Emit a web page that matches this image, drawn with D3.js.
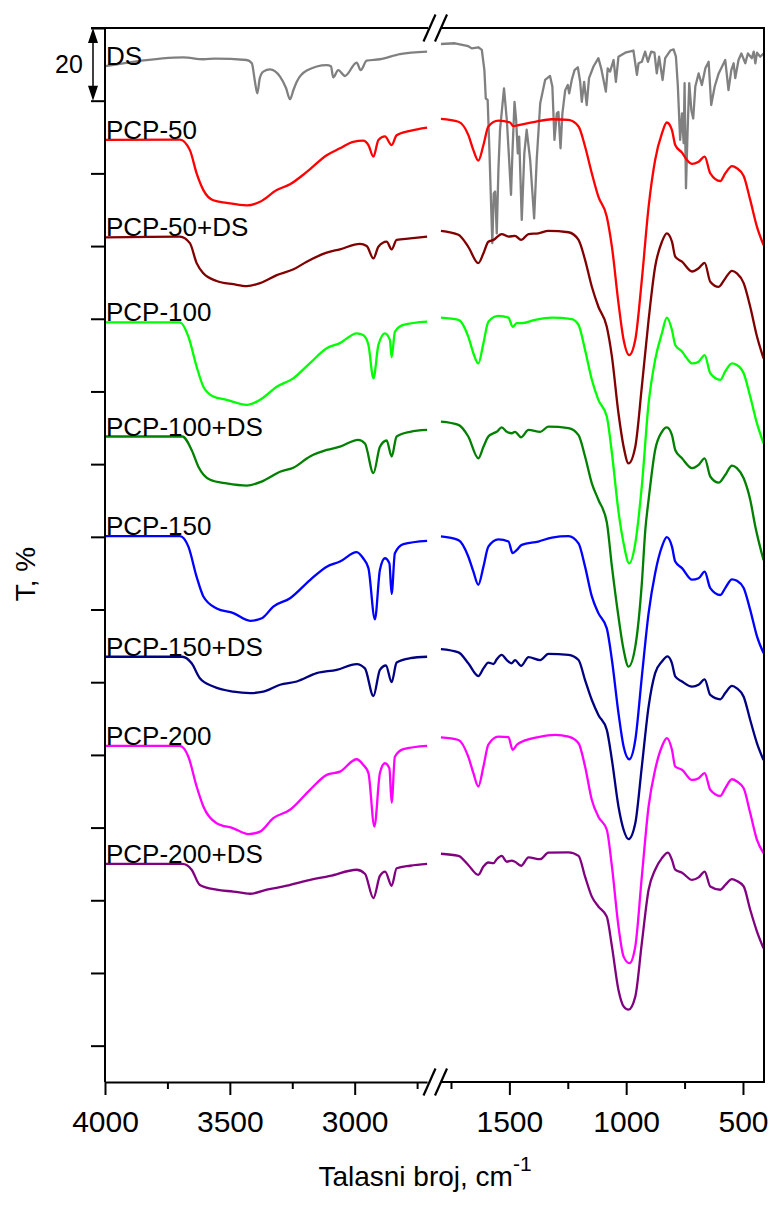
<!DOCTYPE html>
<html><head><meta charset="utf-8">
<script src="https://cdn.jsdelivr.net/npm/d3@7"></script>
<style>
html,body{margin:0;padding:0;background:#fff;}
svg{display:block;font-family:"Liberation Sans",Arial,sans-serif;}
</style></head>
<body>
<svg id="chart" width="772" height="1212"></svg>
<script>
// ---- Data (wavenumber cm-1, offset transmittance %) ----
const sampleNames = ["DS","PCP-50","PCP-50+DS","PCP-100","PCP-100+DS","PCP-150","PCP-150+DS","PCP-200","PCP-200+DS"];
const sampleColors = ["#808080","#ff0000","#800000","#00ff00","#008000","#0000ff","#000080","#ff00ff","#800080"];

const xTicksLeftMajor = [4000, 3500, 3000];
const xTicksLeftMinor = [3750, 3250, 2750];
const xTicksRightMajor = [1500, 1000, 500];
const xTicksRightMinor = [1750, 1250, 750];
const yTicks = [10, 30, 50, 70, 90, 110, 130, 150, 170, 190, 210, 230, 250, 270, 290];
const scaleBarValue = 20;

const dsLeft = [[4000,279.5],[3887,280.7],[3686,281.9],[3606,281.4],[3560,281.6],[3433,281.2],[3412,280.3],[3400,275.5],[3390,272.0],[3380,276.2],[3366,278.0],[3339,278.6],[3299,276.6],[3275,273.5],[3259,270.4],[3245,273.0],[3232,275.2],[3192,278.3],[3112,279.8],[3095,279.5],[3086,276.4],[3066,278.4],[3039,276.8],[2992,280.5],[2976,278.4],[2952,281.0],[2899,281.4],[2819,282.8],[2710,283.5]];
const dsRight = [[1793,285.6],[1733,285.8],[1676,285.0],[1661,284.4],[1633,284.7],[1618,284.0],[1607,278.4],[1601,270.6],[1593,270.2],[1586,257.4],[1578,240.8],[1573,230.8],[1567,244.5],[1561,245.0],[1554,233.5],[1547,250.9],[1540,262.0],[1523,273.4],[1511,264.7],[1501,253.7],[1493,244.1],[1487,255.5],[1478,269.7],[1471,264.7],[1464,255.5],[1458,260.1],[1447,237.2],[1436,255.5],[1426,262.0],[1411,253.7],[1394,237.6],[1383,253.7],[1368,269.3],[1347,275.7],[1326,276.8],[1316,273.9],[1307,259.2],[1297,266.5],[1290,266.9],[1281,256.9],[1273,266.5],[1261,272.9],[1250,274.3],[1244,272.0],[1233,275.7],[1221,278.4],[1207,279.2],[1197,275.2],[1190,269.7],[1180,275.2],[1169,268.8],[1159,276.2],[1140,279.4],[1119,281.7],[1107,278.9],[1097,275.7],[1087,272.5],[1079,278.9],[1069,278.0],[1054,281.2],[1044,275.2],[1033,282.1],[1004,283.2],[969,283.8],[954,277.1],[947,280.3],[933,280.7],[919,283.5],[907,280.7],[893,283.5],[879,283.2],[869,277.5],[859,282.1],[844,275.7],[833,281.7],[811,283.8],[797,284.1],[787,282.1],[779,274.3],[769,259.2],[761,266.5],[754,258.3],[750,274.8],[744,245.9],[737,261.9],[730,274.8],[721,267.4],[713,265.1],[704,273.9],[690,277.5],[676,274.3],[661,278.9],[647,280.7],[636,268.8],[621,273.9],[604,277.5],[576,281.2],[562,272.9],[550,278.4],[540,280.3],[533,276.2],[519,281.2],[507,283.0],[490,280.3],[479,283.0],[462,281.7],[454,283.5],[447,280.3],[440,283.2],[426,282.1],[412,283.0]];

const pcp50Left = [[4000,259.2],[3700,259.3],[3660,256.4],[3633,250.0],[3606,245.4],[3566,242.6],[3513,241.9],[3432,241.2],[3379,242.2],[3312,245.4],[3259,247.0],[3192,250.4],[3112,255.0],[3059,256.9],[3006,258.7],[2966,259.0],[2945,257.8],[2925,254.6],[2905,259.2],[2879,260.2],[2852,257.8],[2832,260.5],[2778,261.7],[2710,262.6]];
const pcp50Right = [[1793,265.0],[1718,264.2],[1676,260.6],[1654,256.4],[1633,253.5],[1611,257.8],[1590,262.9],[1547,264.5],[1497,264.0],[1483,263.0],[1461,263.3],[1390,264.2],[1318,264.9],[1247,264.7],[1204,262.9],[1176,257.4],[1147,250.0],[1119,243.6],[1083,238.1],[1061,229.8],[1033,214.3],[1011,204.2],[987,200.0],[961,204.2],[933,220.7],[904,240.8],[876,253.7],[847,261.0],[826,264.0],[804,261.9],[790,257.8],[761,255.7],[740,253.7],[718,252.6],[690,253.2],[664,254.6],[640,250.0],[597,247.9],[576,250.0],[547,252.0],[526,251.4],[497,249.3],[469,242.7],[440,235.3],[412,230.3]];

const pcp50dsLeft = [[4000,232.4],[3700,232.6],[3660,230.8],[3633,225.3],[3606,222.5],[3553,220.4],[3486,219.5],[3432,219.0],[3379,219.8],[3312,222.0],[3245,223.6],[3192,225.7],[3112,228.2],[3059,229.1],[2979,230.6],[2952,230.0],[2925,226.6],[2905,229.8],[2872,231.2],[2852,229.1],[2832,231.7],[2778,232.1],[2710,232.6]];
const pcp50dsRight = [[1793,234.2],[1718,233.1],[1676,229.8],[1633,225.3],[1611,228.0],[1590,231.2],[1568,231.7],[1533,233.3],[1504,232.6],[1476,232.8],[1450,231.7],[1418,233.3],[1376,233.5],[1333,234.2],[1247,233.8],[1204,231.7],[1176,226.2],[1147,218.8],[1119,213.3],[1083,207.8],[1061,199.6],[1033,184.0],[1011,174.8],[990,170.2],[961,174.8],[933,191.3],[904,209.7],[876,224.3],[847,231.2],[826,233.5],[804,231.2],[790,227.1],[761,225.7],[718,223.0],[690,223.9],[664,225.4],[640,220.2],[604,218.8],[576,221.1],[547,223.2],[526,222.5],[497,219.8],[469,213.3],[440,205.1],[412,199.1]];

const pcp100Left = [[4000,209.0],[3700,209.0],[3666,205.1],[3633,196.8],[3606,191.3],[3566,188.6],[3513,187.7],[3432,186.3],[3379,187.7],[3312,191.3],[3246,193.6],[3179,197.8],[3112,201.9],[3059,203.3],[2992,206.0],[2966,205.5],[2945,202.8],[2925,193.6],[2905,202.8],[2879,206.0],[2859,204.2],[2852,199.4],[2839,206.4],[2805,208.3],[2710,209.2]];
const pcp100Right = [[1793,210.3],[1718,209.7],[1676,205.1],[1654,200.5],[1633,197.7],[1611,203.3],[1590,209.2],[1547,210.8],[1504,210.3],[1486,207.8],[1468,208.8],[1447,208.8],[1390,209.7],[1318,210.3],[1233,209.9],[1204,208.3],[1176,201.4],[1147,193.2],[1119,187.7],[1083,183.1],[1061,173.0],[1033,157.0],[1011,148.2],[987,142.7],[961,148.2],[933,164.0],[904,186.7],[876,198.7],[847,206.0],[826,210.3],[804,206.9],[790,202.8],[761,201.0],[740,199.1],[718,197.7],[690,198.2],[664,200.0],[640,195.0],[597,193.2],[576,195.5],[547,197.7],[526,197.3],[497,195.0],[469,188.6],[440,181.2],[412,175.7]];

const pcp100dsLeft = [[4000,177.6],[3690,177.6],[3653,173.9],[3626,169.3],[3579,165.7],[3513,164.7],[3432,164.1],[3366,165.4],[3299,167.9],[3246,169.0],[3179,172.1],[3112,173.9],[3059,174.8],[2986,176.7],[2959,175.7],[2925,167.5],[2899,174.8],[2872,176.5],[2852,172.1],[2832,177.6],[2778,178.9],[2710,179.4]];
const pcp100dsRight = [[1793,181.7],[1718,180.8],[1676,177.6],[1633,171.6],[1611,174.8],[1590,177.6],[1568,178.5],[1554,178.9],[1533,180.1],[1511,178.9],[1490,178.5],[1476,178.9],[1450,177.4],[1418,179.4],[1368,178.9],[1333,180.3],[1247,179.9],[1204,178.0],[1176,172.1],[1147,164.7],[1119,160.2],[1083,154.0],[1061,141.8],[1033,128.0],[1011,118.9],[990,114.3],[961,119.8],[933,137.2],[918,152.0],[904,160.2],[876,173.9],[847,178.9],[826,180.1],[804,178.0],[790,173.9],[761,171.6],[718,168.9],[690,169.8],[664,171.6],[640,166.6],[604,164.9],[576,167.0],[547,169.6],[526,168.9],[497,166.1],[469,160.2],[447,152.8],[412,143.6]];

const pcp150Left = [[4000,150.2],[3700,150.2],[3666,147.3],[3633,139.0],[3606,133.6],[3553,130.3],[3486,129.0],[3419,126.9],[3372,127.6],[3326,130.8],[3259,133.1],[3179,138.1],[3112,141.8],[3059,143.2],[2992,145.8],[2966,144.1],[2945,141.4],[2919,127.3],[2899,140.9],[2879,144.1],[2861,142.7],[2852,134.3],[2839,145.5],[2805,148.0],[2710,148.9]];
const pcp150Right = [[1793,150.1],[1718,149.1],[1676,144.6],[1654,140.4],[1633,136.8],[1611,141.8],[1590,147.3],[1547,149.3],[1504,148.7],[1486,145.5],[1468,146.4],[1447,147.8],[1376,148.7],[1318,149.8],[1247,150.2],[1204,148.2],[1176,141.8],[1147,133.6],[1119,129.0],[1083,124.8],[1061,116.1],[1033,101.5],[1011,92.3],[987,88.8],[961,94.1],[933,111.5],[904,129.0],[876,140.0],[847,147.3],[826,149.9],[804,147.3],[790,143.2],[761,141.4],[718,138.2],[690,138.6],[664,140.4],[640,135.9],[597,134.0],[576,135.9],[547,138.3],[526,137.9],[497,135.9],[469,129.9],[440,122.6],[412,118.0]];

const pcp150dsLeft = [[4000,117.0],[3690,117.0],[3653,115.2],[3620,111.1],[3566,108.8],[3486,107.4],[3419,107.0],[3366,107.4],[3299,109.3],[3232,110.2],[3152,112.5],[3072,113.4],[2992,115.0],[2959,113.8],[2925,106.2],[2899,113.4],[2875,114.6],[2852,110.0],[2832,115.4],[2778,116.6],[2710,117.0]];
const pcp150dsRight = [[1793,119.1],[1718,118.2],[1676,115.2],[1633,111.7],[1611,113.8],[1590,115.4],[1568,115.0],[1554,116.3],[1533,117.5],[1511,116.1],[1490,115.2],[1476,116.1],[1450,114.5],[1418,116.9],[1368,116.1],[1333,117.8],[1247,117.5],[1204,116.1],[1176,110.6],[1147,105.1],[1119,101.0],[1083,96.9],[1061,88.6],[1033,75.8],[1011,69.4],[990,66.8],[961,71.2],[933,86.8],[904,103.3],[876,112.5],[847,115.7],[823,117.1],[804,115.2],[790,111.6],[761,110.2],[718,108.8],[690,109.3],[664,110.8],[640,106.5],[597,105.3],[576,107.0],[547,109.0],[526,108.3],[497,106.0],[469,99.6],[440,93.2],[412,88.6]];

const pcp200Left = [[4000,92.5],[3700,92.5],[3666,89.5],[3633,81.3],[3606,75.8],[3553,71.2],[3486,69.8],[3426,68.2],[3379,68.9],[3326,72.6],[3259,74.9],[3179,80.4],[3112,84.5],[3059,85.4],[2992,88.8],[2966,87.3],[2945,85.0],[2921,70.3],[2899,85.0],[2879,87.7],[2861,86.3],[2852,76.9],[2839,89.5],[2805,91.6],[2710,92.5]];
const pcp200Right = [[1793,94.8],[1718,94.1],[1676,89.5],[1654,85.0],[1633,81.3],[1611,86.8],[1590,92.8],[1547,95.0],[1504,94.9],[1486,91.4],[1468,92.8],[1447,93.6],[1376,94.9],[1304,95.5],[1247,95.0],[1204,93.2],[1176,86.8],[1147,77.6],[1119,73.0],[1083,69.4],[1061,59.3],[1033,42.8],[1011,34.5],[986,32.7],[961,37.3],[933,56.5],[904,75.8],[876,85.9],[847,92.3],[826,94.6],[804,91.4],[790,86.8],[761,85.9],[718,83.1],[690,83.6],[664,85.0],[640,80.4],[597,78.7],[576,80.8],[547,83.3],[526,82.7],[497,80.8],[469,74.0],[440,66.6],[412,63.0]];

const pcp200dsLeft = [[4000,60.0],[3690,60.0],[3653,58.4],[3620,54.2],[3553,52.9],[3486,52.4],[3419,51.8],[3352,52.9],[3272,54.0],[3192,55.4],[3099,56.7],[2992,58.4],[2959,57.3],[2925,50.6],[2899,56.7],[2878,57.9],[2852,54.0],[2832,58.8],[2778,59.5],[2710,60.0]];
const pcp200dsRight = [[1793,62.8],[1718,62.2],[1676,59.7],[1633,57.0],[1611,59.3],[1590,60.4],[1568,60.2],[1554,61.3],[1533,62.2],[1511,60.6],[1490,60.9],[1476,60.6],[1450,59.5],[1418,61.8],[1368,61.3],[1333,63.1],[1247,63.2],[1204,62.2],[1176,56.5],[1147,51.0],[1119,48.3],[1083,45.5],[1061,37.3],[1033,25.3],[1011,20.8],[990,19.9],[961,23.5],[933,38.2],[904,52.9],[876,58.4],[847,61.6],[821,63.1],[804,61.1],[790,58.4],[761,57.6],[718,55.6],[690,56.3],[664,57.9],[640,53.8],[597,52.9],[576,54.2],[547,55.8],[526,55.3],[497,53.8],[469,47.4],[440,41.4],[412,36.8]];

const leftSeries = [dsLeft, pcp50Left, pcp50dsLeft, pcp100Left, pcp100dsLeft, pcp150Left, pcp150dsLeft, pcp200Left, pcp200dsLeft];
const rightSeries = [dsRight, pcp50Right, pcp50dsRight, pcp100Right, pcp100dsRight, pcp150Right, pcp150dsRight, pcp200Right, pcp200dsRight];

// ---- Layout ----
const L = 105, R = 764, T = 28, B = 1082;
const leftEndPx = 427.1, rightStartPx = 439.3;

const svg = d3.select("#chart");
const xLeft = d3.scaleLinear().domain([4000, 2710]).range([L, leftEndPx]);
const xRight = d3.scaleLinear().domain([1800, 410]).range([rightStartPx, R]);
const y = d3.scaleLinear().domain([0, 290]).range([B, T]);

// curves
const lineL = d3.line().x(d => xLeft(d[0])).y(d => y(d[1])).curve(d3.curveMonotoneX);
const lineR = d3.line().x(d => xRight(d[0])).y(d => y(d[1])).curve(d3.curveMonotoneX);
const lineRLin = d3.line().x(d => xRight(d[0])).y(d => y(d[1])).curve(d3.curveLinear);

const gCurves = svg.append("g").attr("fill", "none").attr("stroke-width", 2.3).attr("stroke-linejoin", "round");
sampleNames.forEach((name, i) => {
  gCurves.append("path").attr("d", lineL(leftSeries[i])).attr("stroke", sampleColors[i]);
  gCurves.append("path").attr("d", (i === 0 ? lineRLin : lineR)(rightSeries[i])).attr("stroke", sampleColors[i]);
});

// labels
const gLab = svg.append("g").attr("font-size", 26).attr("fill", "#000");
sampleNames.forEach((name, i) => {
  gLab.append("text").attr("x", L + 1).attr("y", y(leftSeries[i][0][1]) - 1).text(name);
});

// frame lines
const axisStroke = 2;
const frame = svg.append("g").attr("stroke", "#000").attr("stroke-width", axisStroke).attr("fill", "none");
frame.append("line").attr("x1", L).attr("x2", L).attr("y1", T).attr("y2", B);
frame.append("line").attr("x1", R).attr("x2", R).attr("y1", T).attr("y2", B);
frame.append("line").attr("x1", L - 14).attr("x2", leftEndPx + 1).attr("y1", T).attr("y2", T);
frame.append("line").attr("x1", rightStartPx + 2).attr("x2", R + 1).attr("y1", T).attr("y2", T);

// bottom axes
function styleAxis(g) {
  g.select(".domain").attr("stroke-width", axisStroke);
  g.selectAll(".tick line").attr("stroke-width", axisStroke);
  g.selectAll(".tick text").attr("font-size", 30).attr("font-family", "Liberation Sans, Arial, sans-serif")
    .attr("fill", "#000").attr("y", 50).attr("dy", 0);
}
const axL = svg.append("g").attr("transform", `translate(0,${B})`)
  .call(d3.axisBottom(xLeft).tickValues(xTicksLeftMajor).tickSize(13).tickSizeOuter(0).tickFormat(d3.format("d")));
styleAxis(axL);
const axLm = svg.append("g").attr("transform", `translate(0,${B})`)
  .call(d3.axisBottom(xLeft).tickValues(xTicksLeftMinor).tickSize(7).tickSizeOuter(0).tickFormat(""));
styleAxis(axLm); axLm.select(".domain").remove();
const axR = svg.append("g").attr("transform", `translate(0,${B})`)
  .call(d3.axisBottom(xRight).tickValues(xTicksRightMajor).tickSize(13).tickSizeOuter(0).tickFormat(d3.format("d")));
styleAxis(axR);
axR.select(".domain").attr("d", `M${rightStartPx + 2},0H${R + 1}`);
const axRm = svg.append("g").attr("transform", `translate(0,${B})`)
  .call(d3.axisBottom(xRight).tickValues(xTicksRightMinor).tickSize(7).tickSizeOuter(0).tickFormat(""));
styleAxis(axRm); axRm.select(".domain").remove();

// left y ticks (no labels)
const axY = svg.append("g").attr("transform", `translate(${L},0)`)
  .call(d3.axisLeft(y).tickValues(yTicks).tickSize(14).tickSizeOuter(0).tickFormat(""));
axY.select(".domain").remove();
axY.selectAll(".tick line").attr("stroke-width", axisStroke);

// break marks
function breakMarks(yc) {
  const g = svg.append("g").attr("stroke", "#000").attr("stroke-width", 2.2);
  [423.5, 435].forEach(x0 => {
    g.append("line").attr("x1", x0).attr("y1", yc + 13.5).attr("x2", x0 + 12).attr("y2", yc - 13.5);
  });
}
breakMarks(B);
breakMarks(T);

// scale bar (20 %)
const sbX = 93;
const sbTop = y(290), sbBot = y(290 - scaleBarValue);
const sb = svg.append("g");
sb.append("line").attr("x1", sbX).attr("x2", sbX).attr("y1", sbTop + 10).attr("y2", sbBot - 10).attr("stroke", "#000").attr("stroke-width", 1.5);
sb.append("path").attr("d", `M${sbX},${sbTop}L${sbX - 5},${sbTop + 15}L${sbX + 5},${sbTop + 15}Z`).attr("fill", "#000");
sb.append("path").attr("d", `M${sbX},${sbBot}L${sbX - 5},${sbBot - 15}L${sbX + 5},${sbBot - 15}Z`).attr("fill", "#000");
sb.append("text").attr("x", 69).attr("y", (sbTop + sbBot) / 2 + 9).attr("text-anchor", "middle").attr("font-size", 25).text(String(scaleBarValue));

// axis titles
const xt = svg.append("text").attr("x", 425).attr("y", 1186).attr("text-anchor", "middle").attr("font-size", 28);
xt.append("tspan").text("Talasni broj, cm");
xt.append("tspan").attr("dy", -15).attr("font-size", 21).text("-1");

svg.append("text").attr("transform", "translate(35,574) rotate(-90)").attr("text-anchor", "middle").attr("font-size", 28).text("T, %");
</script>
</body></html>
